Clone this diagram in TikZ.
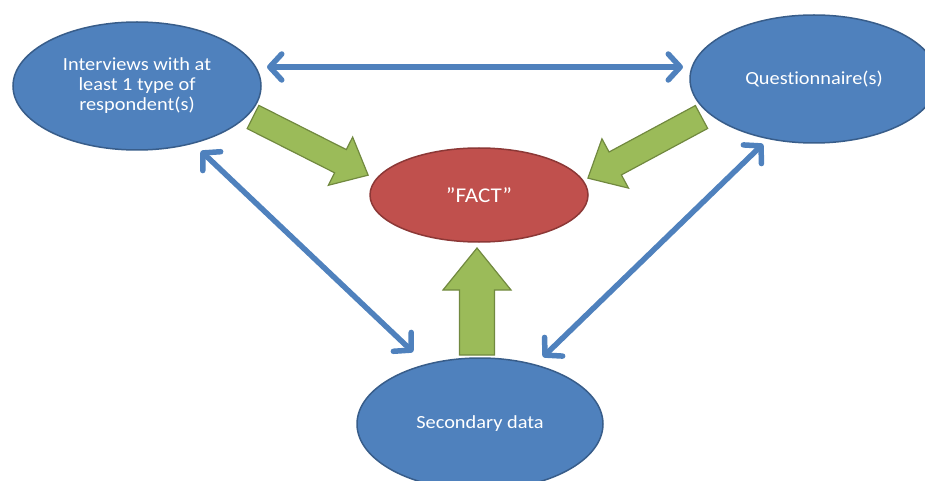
\documentclass[tikz,border=0pt]{standalone}
\usepackage{fontspec}
\setmainfont{Carlito}[FakeStretch=1.1,Ligatures=NoCommon]
\usetikzlibrary{shapes.geometric,arrows.meta}
\definecolor{bluefill}{HTML}{4F81BD}
\definecolor{blueedge}{HTML}{385D8A}
\definecolor{redfill}{HTML}{C0504D}
\definecolor{rededge}{HTML}{8C3836}
\definecolor{greenfill}{HTML}{9BBB59}
\definecolor{greenedge}{HTML}{71893F}
\begin{document}
\begin{tikzpicture}[x=1pt,y=-1pt,
  oval/.style={ellipse, draw=blueedge, fill=bluefill, line width=1.5pt, inner sep=0pt,
    text=white, align=center, font=\fontsize{18.5}{20}\selectfont},
  factoval/.style={oval, draw=rededge, fill=redfill, font=\fontsize{21}{22}\selectfont},
  link/.style={draw=bluefill, line width=5.5pt, line cap=round,
    {Straight Barb[length=12pt,width=26pt,line cap=round,line join=round]}-{Straight Barb[length=12pt,width=26pt,line cap=round,line join=round]}},
  blockarrow/.style={draw=greenedge, fill=greenfill, line width=1.2pt, line join=miter}
]
\useasboundingbox (0,0) rectangle (925,481);
\clip (0,0) rectangle (925,481);

% link end points
\coordinate (t1) at (267,67);
\coordinate (t2) at (683,67);
\coordinate (l1) at (201,151);
\coordinate (l2) at (413,352);
\coordinate (r1) at (763,144);
\coordinate (r2) at (543,357);

\draw[link] (t1) -- (t2);
\draw[link] (l1) -- (l2);
\draw[link] (r1) -- (r2);

% green block arrows
\path[blockarrow, shift={(253,117)}, rotate=-26.8]
  (0,-13) -- (98,-13) -- (98,-27) -- (129,0) -- (98,27) -- (98,13) -- (0,13) -- cycle;
\path[blockarrow, shift={(701.5,117)}, rotate=-151.7]
  (0,-13) -- (98,-13) -- (98,-28) -- (129,0) -- (98,28) -- (98,13) -- (0,13) -- cycle;
\path[blockarrow, shift={(477,355)}, rotate=90]
  (0,-17.5) -- (65,-17.5) -- (65,-34) -- (107,0) -- (65,34) -- (65,17.5) -- (0,17.5) -- cycle;

% ellipses
\node[oval, minimum width=248pt, minimum height=128pt] (int) at (137,86)
  {\raisebox{-2pt}{\parbox{150pt}{\centering Interviews with at\\least 1 type of\\respondent(s)}}};
\node[oval, minimum width=248pt, minimum height=128pt] (quest) at (814,79)
  {Questionnaire(s)};
\node[factoval, minimum width=218pt, minimum height=94pt] (fact) at (479,195)
  {”FACT”};
\node[oval, minimum width=246pt, minimum height=132pt] (sec) at (480,424)
  {Secondary data};
\end{tikzpicture}
\end{document}
